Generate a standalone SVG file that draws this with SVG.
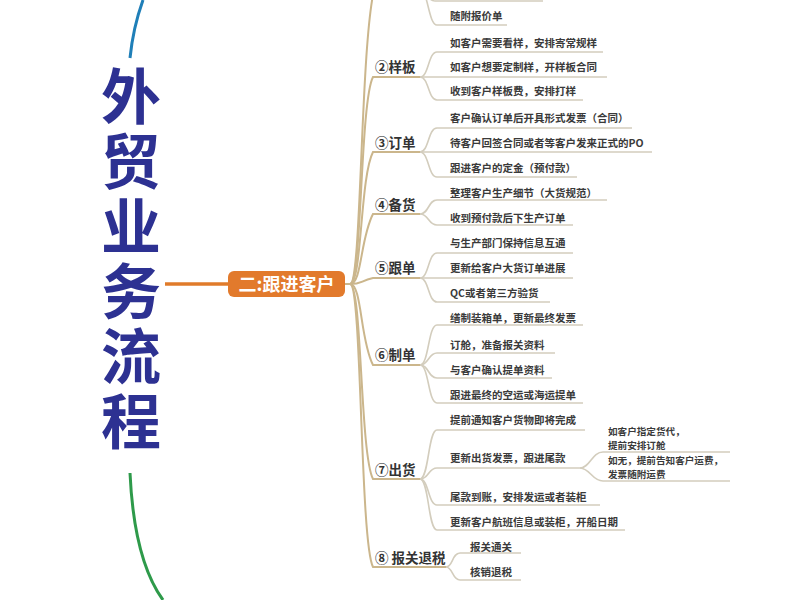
<svg xmlns="http://www.w3.org/2000/svg" width="800" height="600" viewBox="0 0 800 600">
<style>
text { font-family: "Noto Sans CJK SC", "Noto Sans", sans-serif; font-weight: 700; }
.title { font-size: 60px; fill: #2d3192; writing-mode: vertical-rl; letter-spacing: 5px; }
.leaf { font-size: 10.5px; fill: #3a3a3a; }
.sub { font-size: 9.6px; fill: #3a3a3a; }
.grp { font-size: 13.5px; fill: #333333; }
.center { font-size: 18px; fill: #ffffff; }
.br { fill: none; stroke: #cbb68c; stroke-width: 2; }
.ul { fill: none; stroke: #d3cdbd; stroke-width: 1.6; }
</style>
<rect width="800" height="600" fill="#ffffff"/>

<g id="title">
  <path d="M143,0 Q133,28 130,58" fill="none" stroke="#1f7fb8" stroke-width="3"/>
  <path d="M130,473 Q134,560 163,600" fill="none" stroke="#2e9a4a" stroke-width="3"/>
  <text class="title" x="131" y="66">外贸业务流程</text>
</g>

<g id="connectors">
  <path d="M165,284 H228" fill="none" stroke="#e07b2a" stroke-width="3.5"/>
  <path class="br" d="M345,284 H350 C362,284 360,40 375,-14"/>
  <path class="br" d="M345,284 H350 C362,284 360,102 373,77 H420"/>
  <path class="br" d="M345,284 H350 C362,284 360,177 373,152 H420"/>
  <path class="br" d="M345,284 H350 C362,284 360,239 373,214 H420"/>
  <path class="br" d="M345,284 H350 C362,284 360,281 373,278 H420"/>
  <path class="br" d="M345,284 H350 C362,284 360,340 373,365 H420"/>
  <path class="br" d="M345,284 H350 C362,284 360,454 373,479 H420"/>
  <path class="br" d="M345,284 H350 C362,284 360,542 373,567 H446"/>
  <path class="ul" d="M418,-14 C427,-14 426,1 435,1 H543"/>
  <path class="ul" d="M418,-14 C428,-14 428,25 437,25 H507"/>
  <path class="ul" d="M420,77 C429,77 428,52 437,52 H603"/>
  <path class="ul" d="M420,77 H607"/>
  <path class="ul" d="M420,77 C429,77 428,100 437,100 H583"/>
  <path class="ul" d="M420,152 C429,152 428,128 437,128 H632"/>
  <path class="ul" d="M420,152 H652"/>
  <path class="ul" d="M420,152 C429,152 428,177 437,177 H577"/>
  <path class="ul" d="M420,214 C429,214 428,200 437,200 H607"/>
  <path class="ul" d="M420,214 C429,214 428,225 437,225 H573"/>
  <path class="ul" d="M420,278 C429,278 428,253 437,253 H573"/>
  <path class="ul" d="M420,278 H573"/>
  <path class="ul" d="M420,278 C429,278 428,302 437,302 H550"/>
  <path class="ul" d="M420,365 C429,365 428,325 437,325 H583"/>
  <path class="ul" d="M420,365 C429,365 428,353 437,353 H555"/>
  <path class="ul" d="M420,365 C429,365 428,378 437,378 H552"/>
  <path class="ul" d="M420,365 C429,365 428,403 437,403 H583"/>
  <path class="ul" d="M420,479 C429,479 428,430 437,430 H585"/>
  <path class="ul" d="M420,479 C429,479 428,468 437,468 H580"/>
  <path class="ul" d="M420,479 C429,479 428,505 437,505 H600"/>
  <path class="ul" d="M420,479 C429,479 428,530 437,530 H625"/>
  <path class="ul" d="M580,468 C590,468 592,452 603,452 H730"/>
  <path class="ul" d="M580,468 C590,468 592,481 603,481 H730"/>
  <path class="ul" d="M446,567 C453,567 452,553 460,553 H521"/>
  <path class="ul" d="M446,567 C453,567 452,580 460,580 H521"/>
</g>

<g id="center-node">
  <rect x="228" y="271" width="117" height="26" rx="6" fill="#e27a2c"/>
  <text class="center" x="286.5" y="291" text-anchor="middle">二:跟进客户</text>
</g>

<g id="group1">
  <text class="leaf" x="450" y="20">随附报价单</text>
</g>

<g id="group2">
  <text class="grp" x="375" y="72">②样板</text>
  <text class="leaf" x="450" y="47">如客户需要看样，安排寄常规样</text>
  <text class="leaf" x="450" y="71">如客户想要定制样，开样板合同</text>
  <text class="leaf" x="450" y="95">收到客户样板费，安排打样</text>
</g>

<g id="group3">
  <text class="grp" x="375" y="148">③订单</text>
  <text class="leaf" x="450" y="122">客户确认订单后开具形式发票（合同）</text>
  <text class="leaf" x="450" y="147">待客户回签合同或者等客户发来正式的PO</text>
  <text class="leaf" x="450" y="172">跟进客户的定金（预付款）</text>
</g>

<g id="group4">
  <text class="grp" x="375" y="210">④备货</text>
  <text class="leaf" x="450" y="197">整理客户生产细节（大货规范）</text>
  <text class="leaf" x="450" y="222">收到预付款后下生产订单</text>
</g>

<g id="group5">
  <text class="grp" x="375" y="273">⑤跟单</text>
  <text class="leaf" x="450" y="247">与生产部门保持信息互通</text>
  <text class="leaf" x="450" y="272">更新给客户大货订单进展</text>
  <text class="leaf" x="450" y="297">QC或者第三方验货</text>
</g>

<g id="group6">
  <text class="grp" x="375" y="360">⑥制单</text>
  <text class="leaf" x="450" y="322">缮制装箱单，更新最终发票</text>
  <text class="leaf" x="450" y="349">订舱，准备报关资料</text>
  <text class="leaf" x="450" y="374">与客户确认提单资料</text>
  <text class="leaf" x="450" y="399">跟进最终的空运或海运提单</text>
</g>

<g id="group7">
  <text class="grp" x="375" y="475">⑦出货</text>
  <text class="leaf" x="450" y="424">提前通知客户货物即将完成</text>
  <text class="leaf" x="450" y="462">更新出货发票，跟进尾款</text>
  <text class="leaf" x="450" y="501">尾款到账，安排发运或者装柜</text>
  <text class="leaf" x="450" y="526">更新客户航班信息或装柜，开船日期</text>
  <text class="sub" x="608" y="435">如客户指定货代，</text>
  <text class="sub" x="608" y="449">提前安排订舱</text>
  <text class="sub" x="608" y="464">如无，提前告知客户运费，</text>
  <text class="sub" x="608" y="478">发票随附运费</text>
</g>

<g id="group8">
  <text class="grp" x="375" y="563">⑧ 报关退税</text>
  <text class="leaf" x="470" y="551">报关通关</text>
  <text class="leaf" x="470" y="576">核销退税</text>
</g>
</svg>
